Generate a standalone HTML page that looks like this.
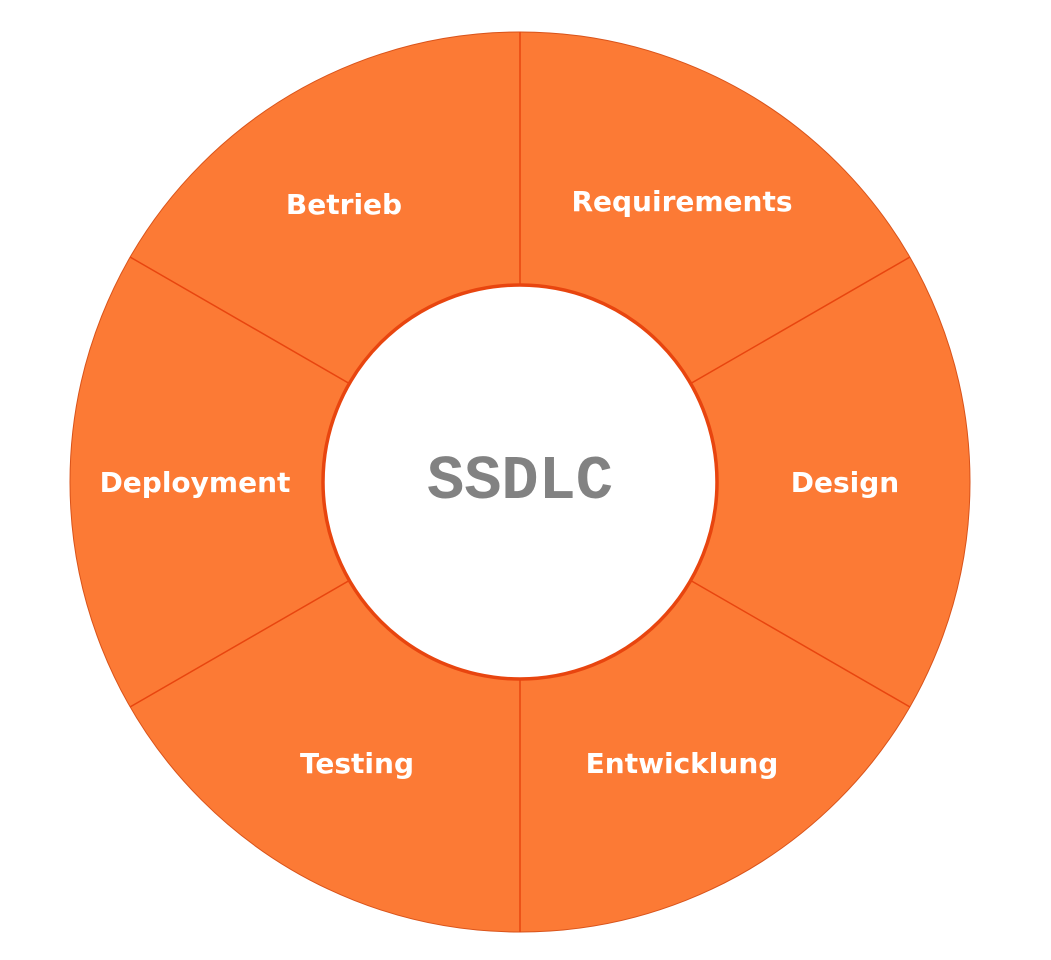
<!DOCTYPE html>
<html><head><meta charset="utf-8"><style>
html,body{margin:0;padding:0;background:#fff;width:1051px;height:960px;overflow:hidden}
</style></head><body>
<svg width="1051" height="960" viewBox="0 0 1051 960" xmlns="http://www.w3.org/2000/svg">
<circle cx="520" cy="482" r="450" fill="#fc7a35" stroke="#d9531a" stroke-width="1"/>
<g stroke="#e8450f" stroke-width="1.5">
<line x1="520" y1="32" x2="520" y2="932"/>
<line x1="130" y1="257" x2="910" y2="707"/>
<line x1="130" y1="707" x2="910" y2="257"/>
</g>
<circle cx="520" cy="482" r="197" fill="#fff" stroke="#e8450f" stroke-width="3.5"/>
<g font-family="'DejaVu Sans','Liberation Sans',sans-serif" font-weight="bold" font-size="28" fill="#fff" text-anchor="middle">
<text x="682" y="211">Requirements</text>
<text x="344" y="214">Betrieb</text>
<text x="845" y="492">Design</text>
<text x="195" y="492">Deployment</text>
<text x="357" y="773">Testing</text>
<text x="682" y="773">Entwicklung</text>
</g>
<text x="520" y="498" font-family="'Liberation Mono',monospace" font-weight="bold" font-size="62" fill="#828282" text-anchor="middle">SSDLC</text>
</svg>
</body></html>
